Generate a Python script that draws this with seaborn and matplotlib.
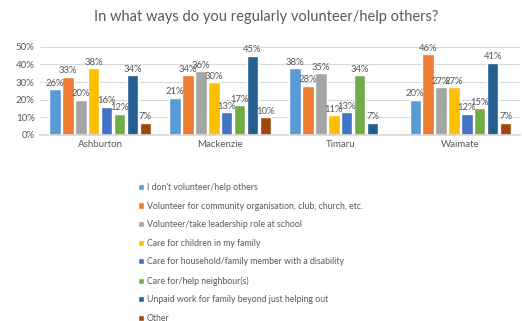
import matplotlib
matplotlib.use("Agg")
import matplotlib.pyplot as plt
import seaborn as sns
import pandas as pd

districts = ["Ashburton", "Mackenzie", "Timaru", "Waimate"]
activities = [
    "I don't volunteer/help others",
    "Volunteer for community organisation, club, church, etc.",
    "Volunteer/take leadership role at school",
    "Care for children in my family",
    "Care for household/family member with a disability",
    "Care for/help neighbour(s)",
    "Unpaid work for family beyond just helping out",
    "Other",
]
# percent of respondents, one list per district in activity order
ashburton = [26, 33, 20, 38, 16, 12, 34, 7]
mackenzie = [21, 34, 36, 30, 13, 17, 45, 10]
timaru = [38, 28, 35, 11, 13, 34, 7, 0]
waimate = [20, 46, 27, 27, 12, 15, 41, 7]
colors = ["#5B9BD5", "#ED7D31", "#A5A5A5", "#FFC000",
          "#4472C4", "#70AD47", "#255E91", "#9E480E"]

rows = []
for d, vals in zip(districts, [ashburton, mackenzie, timaru, waimate]):
    for a, v in zip(activities, vals):
        rows.append({"District": d, "Activity": a, "Percent": v})
df = pd.DataFrame(rows)

sns.set_theme(style="white")
plt.rcParams["font.family"] = ["Lato", "DejaVu Sans"]
txt = "#595959"

fig = plt.figure(figsize=(5.22, 3.21), dpi=100)
ax = fig.add_axes([0.077, 0.58, 0.92, 0.274])
sns.barplot(data=df, x="District", y="Percent", hue="Activity",
            hue_order=activities, palette=colors, saturation=1,
            width=0.86, gap=0.12, ax=ax, legend=True)

for cont in ax.containers:
    labels = [f"{b.get_height():.0f}%" if b.get_height() > 0 else "" for b in cont]
    ax.bar_label(cont, labels=labels, padding=1, fontsize=6.8, color=txt)

ax.set_ylim(0, 50)
ax.set_yticks(range(0, 51, 10))
ax.set_yticklabels([f"{t}%" for t in range(0, 51, 10)])
ax.yaxis.grid(True, color="#D9D9D9", linewidth=0.8)
ax.set_axisbelow(True)
for s in ["top", "right", "left"]:
    ax.spines[s].set_visible(False)
ax.spines["bottom"].set_color("#D9D9D9")
ax.tick_params(axis="both", labelsize=7, colors=txt, length=0, pad=4)
ax.set_xlabel("")
ax.set_ylabel("")

fig.suptitle("In what ways do you regularly volunteer/help others?",
             x=0.51, y=0.97, fontsize=10.5, color=txt)

handles, labels = ax.get_legend_handles_labels()
ax.legend_.remove()
fig.legend(handles, labels, loc="upper left", bbox_to_anchor=(0.265, 0.43),
           ncol=1, frameon=False, fontsize=6.3, labelcolor=txt,
           handlelength=0.7, handleheight=0.7, handletextpad=0.3,
           labelspacing=1.1, borderaxespad=0, borderpad=0)

fig.savefig("out.png", dpi=100, facecolor="white")
